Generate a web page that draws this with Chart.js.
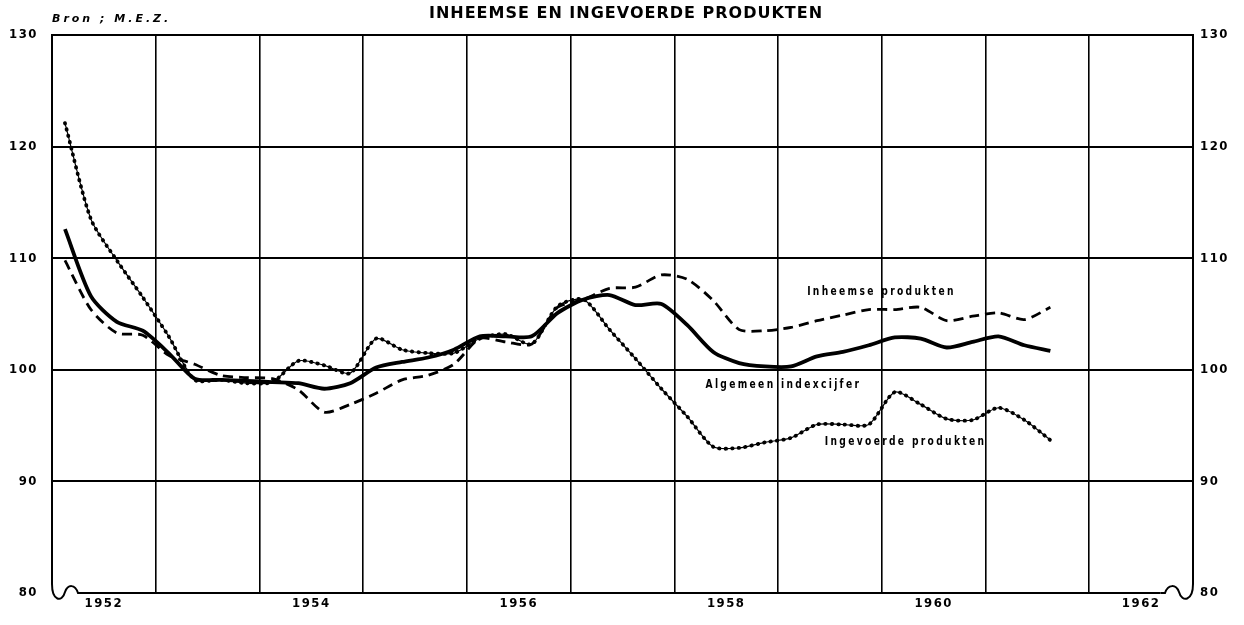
<!DOCTYPE html>
<html>
<head>
<meta charset="utf-8">
<script src="https://cdn.jsdelivr.net/npm/chart.js@4.4.1/dist/chart.umd.min.js"></script>
<style>
  html, body { margin: 0; padding: 0; background: #fff; }
  #wrap { width: 1244px; height: 625px; }
</style>
</head>
<body>
<div id="wrap"><canvas id="chart" width="1244" height="625"></canvas></div>
<script>
// Indexcijfers, kwartaalcijfers 1952-I t/m 1961-III (1953 = 100)
const NARROW = "'Liberation Sans Narrow', 'DejaVu Sans Condensed', 'Liberation Sans', sans-serif";

const firstYear = 1952;
const lastYear = 1963;
const yearLabels = ['1952', '1954', '1956', '1958', '1960', '1962'];
const yTicks = [80, 90, 100, 110, 120, 130];

const algemeen = [
  112.6, 106.6, 104.3, 103.5,
  101.5, 99.2, 99.1, 99.0,
  98.9, 98.8, 98.3, 98.8,
  100.2, 100.7, 101.1, 101.8,
  103.0, 103.0, 103.0, 105.1,
  106.3, 106.7, 105.8, 105.9,
  104.0, 101.6, 100.6, 100.3,
  100.3, 101.2, 101.6, 102.2,
  102.9, 102.8, 102.0, 102.5,
  103.0, 102.2, 101.7,
];
const inheemse = [
  109.8, 105.4, 103.3, 103.1,
  101.3, 100.5, 99.5, 99.3,
  99.2, 98.2, 96.2, 96.9,
  97.9, 99.1, 99.5, 100.5,
  102.8, 102.5, 102.3, 105.6,
  106.3, 107.3, 107.4, 108.5,
  108.1, 106.2, 103.6, 103.5,
  103.8, 104.4, 104.9, 105.4,
  105.4, 105.6, 104.4, 104.8,
  105.1, 104.5, 105.6,
];
const ingevoerde = [
  122.1, 113.5, 109.8, 106.5,
  103.0, 99.1, 99.1, 98.8,
  98.9, 100.8, 100.4, 99.7,
  102.8, 101.8, 101.5, 101.5,
  102.8, 103.2, 102.3, 105.7,
  106.3, 103.6, 101.0, 98.3,
  95.8, 93.1, 93.0, 93.5,
  93.9, 95.1, 95.1, 95.1,
  98.0, 96.9, 95.6, 95.5,
  96.6, 95.5, 93.7,
];

// Bijschriften bij de lijnen (in grafiekwaarden: jaar, index)
const seriesNotes = [
  { text: 'Inheemse produkten', x: 1959.28, y: 107.0 },
  { text: 'Algemeen indexcijfer', x: 1958.30, y: 98.65 },
  { text: 'Ingevoerde produkten', x: 1959.45, y: 93.55 },
];

// midden van het kwartaal op de jaar-as
const quarterX = i => firstYear + (i + 0.5) / 4;
const toPoints = arr => arr.map((v, i) => ({ x: quarterX(i), y: v }));

const decor = {
  id: 'decor',
  beforeDraw(chart) {
    const ctx = chart.ctx;
    ctx.save();
    ctx.fillStyle = '#fff';
    ctx.fillRect(0, 0, chart.width, chart.height);
    ctx.restore();
    ctx.letterSpacing = '1.5px';
  },
  afterDatasetDraw(chart, args) {
    // dunne verbindingslijn onder de stippellijn van de invoerprijzen
    if (args.index !== 2) return;
    const line = args.meta.dataset;
    const ctx = chart.ctx;
    const a = chart.chartArea;
    ctx.save();
    ctx.beginPath();
    ctx.rect(a.left, a.top, a.right - a.left, a.bottom - a.top);
    ctx.clip();
    ctx.strokeStyle = '#000';
    ctx.lineWidth = 1.2;
    ctx.setLineDash([]);
    ctx.beginPath();
    line.path(ctx);
    ctx.stroke();
    ctx.restore();
  },
  afterDraw(chart) {
    const ctx = chart.ctx;
    const { left: L, right: R, bottom: B } = chart.chartArea;
    const xs = chart.scales.x, ys = chart.scales.y;

    ctx.save();
    ctx.fillStyle = '#000';
    ctx.textBaseline = 'middle';

    ctx.font = "bold 16px 'DejaVu Sans', sans-serif";
    ctx.letterSpacing = '1px';
    ctx.textAlign = 'center';
    ctx.fillText('INHEEMSE EN INGEVOERDE PRODUKTEN', 626, 14);

    ctx.font = "italic bold 11px 'DejaVu Sans', sans-serif";
    ctx.letterSpacing = '3px';
    ctx.textAlign = 'left';
    ctx.fillText('Bron ; M.E.Z.', L, 19);

    // smalle, gespatieerde letters: horizontaal samengedrukt
    const squeeze = 0.78;
    ctx.font = 'bold 13px ' + NARROW;
    ctx.letterSpacing = '3px';
    seriesNotes.forEach(n => {
      const px = xs.getPixelForValue(n.x);
      const py = ys.getPixelForValue(n.y);
      ctx.save();
      ctx.translate(px, py);
      ctx.scale(squeeze, 1);
      ctx.fillText(n.text, 0, 0);
      ctx.restore();
    });

    // krulletjes in de onderhoeken
    ctx.fillStyle = '#fff';
    ctx.fillRect(L - 3, B - 9, 32, 12);
    ctx.fillRect(R - 33, B - 9, 36, 12);
    ctx.strokeStyle = '#000';
    ctx.lineWidth = 2;
    ctx.lineCap = 'round';
    ctx.beginPath();
    ctx.moveTo(L, B - 9);
    ctx.bezierCurveTo(L, B + 8, L + 10, B + 10, L + 13, B - 1);
    ctx.bezierCurveTo(L + 16, B - 9, L + 23, B - 9, L + 26, B);
    ctx.lineTo(L + 30, B);
    ctx.stroke();
    ctx.beginPath();
    ctx.moveTo(R - 32, B);
    ctx.lineTo(R - 28, B);
    ctx.bezierCurveTo(R - 25, B - 9, R - 17, B - 9, R - 14, B - 1);
    ctx.bezierCurveTo(R - 11, B + 10, R, B + 8, R, B - 9);
    ctx.stroke();
    ctx.restore();
  },
};

const tickFont = { family: NARROW, size: 13, weight: 'bold' };

new Chart(document.getElementById('chart'), {
  type: 'line',
  data: {
    datasets: [
      {
        label: 'Algemeen indexcijfer',
        data: toPoints(algemeen),
        borderColor: '#000',
        borderWidth: 3.8,
        pointRadius: 0,
        tension: 0.25,
      },
      {
        label: 'Inheemse produkten',
        data: toPoints(inheemse),
        borderColor: '#000',
        borderWidth: 2.8,
        borderDash: [10, 6],
        pointRadius: 0,
        tension: 0.25,
      },
      {
        label: 'Ingevoerde produkten',
        data: toPoints(ingevoerde),
        borderColor: '#000',
        borderWidth: 3.8,
        borderDash: [0.5, 6],
        borderCapStyle: 'round',
        pointRadius: 0,
        tension: 0.25,
      },
    ],
  },
  options: {
    responsive: false,
    animation: false,
    events: [],
    layout: { padding: { top: 35, left: 0, right: 0, bottom: 0 } },
    plugins: {
      legend: { display: false },
      title: { display: false },
      tooltip: { enabled: false },
    },
    scales: {
      x: {
        type: 'linear',
        min: firstYear,
        max: lastYear,
        afterBuildTicks(axis) {
          const t = [];
          for (let y = firstYear; y <= lastYear; y++) {
            t.push({ value: y });
            if (y < lastYear) t.push({ value: y + 0.5 });
          }
          axis.ticks = t;
        },
        afterFit(axis) { axis.height = 32; },
        grid: {
          drawTicks: false,
          lineWidth: 1.6,
          color: c => (c.tick && Number.isInteger(c.tick.value)) ? '#000' : 'rgba(0,0,0,0)',
        },
        border: { display: true, color: '#000', width: 2 },
        ticks: {
          autoSkip: false,
          maxRotation: 0,
          padding: 3,
          color: '#000',
          font: tickFont,
          callback(value) {
            if (Number.isInteger(value)) return '';
            const label = String(Math.floor(value));
            return yearLabels.includes(label) ? label : '';
          },
        },
      },
      y: {
        position: 'left',
        min: 80,
        max: 130,
        afterBuildTicks(axis) { axis.ticks = yTicks.map(v => ({ value: v })); },
        afterFit(axis) { axis.width = 52; },
        grid: { drawTicks: false, color: '#000', lineWidth: 2 },
        border: { display: true, color: '#000', width: 2 },
        ticks: { padding: 14, color: '#000', font: tickFont },
      },
      y2: {
        position: 'right',
        min: 80,
        max: 130,
        afterBuildTicks(axis) { axis.ticks = yTicks.map(v => ({ value: v })); },
        afterFit(axis) { axis.width = 51; },
        grid: { display: false, drawTicks: false },
        border: { display: true, color: '#000', width: 2 },
        ticks: { padding: 7, color: '#000', font: tickFont },
      },
    },
  },
  plugins: [decor],
});
</script>
</body>
</html>
